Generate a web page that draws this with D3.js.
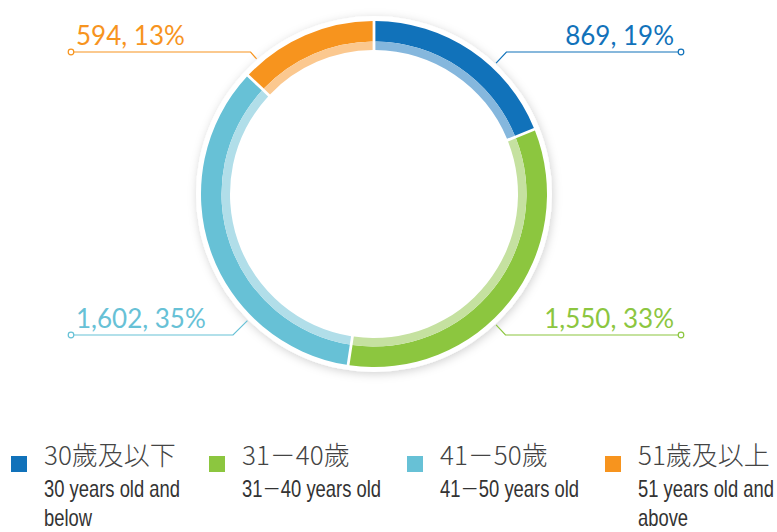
<!DOCTYPE html>
<html><head><meta charset="utf-8">
<script src="https://cdn.jsdelivr.net/npm/d3@7"></script>
<style>
body{margin:0;background:#fff;}
svg{display:block;}
</style></head>
<body>
<svg id="chart" width="777" height="532"></svg>
<script>
const categories = ["30歲及以下", "31－40歲", "41－50歲", "51歲及以上"];
const categoriesEn = [["30 years old and", "below"], ["31－40 years old"], ["41－50 years old"], ["51 years old and", "above"]];
const values = [869, 1550, 1602, 594];
const percentLabels = ["19%", "33%", "35%", "13%"];
const darkColors = ["#1172ba", "#8cc63f", "#67c1d6", "#f7941e"];
const lightColors = ["#85b7dd", "#c5e1a0", "#b1dee9", "#fbc88f"];
const labelAngles = [43, 137, 225, 319]; // leader line angles (deg, clockwise from top)

const svg = d3.select("#chart");
const cx = 374, cy = 194;
const rOuter = 173, rMid = 152.5, rInner = 144, rBorder = 178;

const defs = svg.append("defs");
const f = defs.append("filter").attr("id","sh").attr("x","-20%").attr("y","-20%").attr("width","140%").attr("height","140%");
f.append("feDropShadow").attr("dx",1).attr("dy",2).attr("stdDeviation",5).attr("flood-color","#000").attr("flood-opacity",0.18);

const g = svg.append("g").attr("transform", `translate(${cx},${cy})`);
g.append("circle").attr("r", rBorder).attr("fill", "#fff").attr("filter", "url(#sh)");
g.append("circle").attr("r", rInner).attr("fill", "#fff");

const pie = d3.pie().sort(null).value(d => d).padAngle(0.016);
const arcs = pie(values);
const arcDark = d3.arc().innerRadius(rMid).outerRadius(rOuter).padRadius(rOuter);
const arcLight = d3.arc().innerRadius(rInner).outerRadius(rMid).padRadius(rOuter);

g.selectAll("path.dark").data(arcs).join("path").attr("class","dark")
  .attr("d", arcDark).attr("fill", (d,i) => darkColors[i]);
g.selectAll("path.light").data(arcs).join("path").attr("class","light")
  .attr("d", arcLight).attr("fill", (d,i) => lightColors[i]);

// labels with leader lines
const fmt = d3.format(",");
const lineYTop = cy - 142, lineYBot = cy + 141;
const leftX = 71, rightX = 681, rStart = 179;
arcs.forEach((a, i) => {
  const ang = labelAngles[i] * Math.PI / 180;
  const sx = cx + rStart * Math.sin(ang), sy = cy - rStart * Math.cos(ang);
  const ly = Math.cos(ang) > 0 ? lineYTop : lineYBot;
  const t = (cy - ly) / Math.cos(ang);
  const ex = cx + t * Math.sin(ang);
  const right = Math.sin(ang) > 0;
  const endX = right ? rightX : leftX;
  svg.append("polyline")
    .attr("points", `${sx},${sy} ${ex},${ly} ${endX},${ly}`)
    .attr("fill","none").attr("stroke", darkColors[i]).attr("stroke-width", 1.2);
  svg.append("circle").attr("cx", endX).attr("cy", ly).attr("r", 2.8)
    .attr("fill","#fff").attr("stroke", darkColors[i]).attr("stroke-width", 1.2);
  svg.append("text")
    .attr("x", right ? 674 : 76).attr("y", ly - 7)
    .attr("text-anchor", right ? "end" : "start")
    .attr("font-family", "Lato, 'Open Sans', sans-serif").attr("font-weight", 400)
    .attr("font-size", 26).attr("fill", darkColors[i])
    .text(`${fmt(values[i])}, ${percentLabels[i]}`);
});

// legend
const legend = svg.append("g");
categories.forEach((c, i) => {
  const x0 = 11 + i * 198;
  legend.append("rect").attr("x", x0).attr("y", 456).attr("width", 16).attr("height", 16).attr("fill", darkColors[i]);
  legend.append("text").attr("x", x0 + 33).attr("y", 465)
    .attr("font-family", "'Noto Sans CJK TC', 'Noto Sans CJK SC', sans-serif").attr("font-weight", 300)
    .attr("font-size", 26).attr("fill", "#444").text(c);
  categoriesEn[i].forEach((line, j) => {
    const t = legend.append("text")
      .attr("transform", `translate(${x0 + 33},${497 + j * 29}) scale(0.8,1)`)
      .attr("font-family", "'Liberation Sans', Arial, sans-serif")
      .attr("font-size", 23).attr("fill", "#333");
    line.split(/(－)/).forEach(part => {
      if (!part) return;
      const ts = t.append("tspan").text(part);
      if (part === "－") ts.attr("font-family", "'Noto Sans CJK TC', sans-serif").attr("font-weight", 300);
    });
  });
});
</script>
</body></html>
